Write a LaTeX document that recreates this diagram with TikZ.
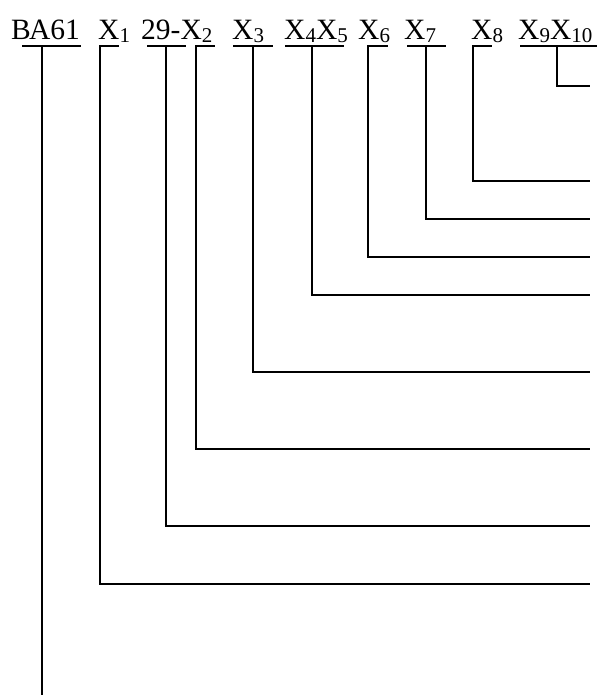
\documentclass[tikz,border=0pt]{standalone}
\usepackage{fontspec}
\setmainfont{Liberation Serif}
\usepackage{tikz}
\newcommand{\idx}[1]{\raisebox{-3pt}{\fontsize{21}{21}\selectfont #1}}

\begin{document}
\begin{tikzpicture}[x=1pt, y=-1pt,
  every node/.style={font=\fontsize{29.5}{31}\selectfont, inner sep=0pt, anchor=base west},
  bar/.style={line width=1.4pt},
  lead/.style={line width=1.4pt}
]
\useasboundingbox (0,0) rectangle (600,695);

% Designation
\node (ba) at (11,40) {ВА61};
\node (xa) at (98,40) {X\idx{1}};
\node (xb) at (141,40) {29-X\idx{2}};
\node (xc) at (232,40) {X\idx{3}};
\node (xd) at (284,40) {X\idx{4}X\idx{5}};
\node (xe) at (358,40) {X\idx{6}};
\node (xf) at (404,40) {X\idx{7}};
\node (xg) at (471,40) {X\idx{8}};
\node (xh) at (518,40) {X\idx{9}X\idx{10}};

% Underlines
\draw[bar] (22,46) -- (81,46);
\draw[bar] (99,46) -- (119,46);
\draw[bar] (147,46) -- (186,46);
\draw[bar] (195,46) -- (215,46);
\draw[bar] (233,46) -- (273,46);
\draw[bar] (285,46) -- (344,46);
\draw[bar] (367,46) -- (388,46);
\draw[bar] (407,46) -- (446,46);
\draw[bar] (472,46) -- (492,46);
\draw[bar] (520,46) -- (597,46);

% Lead points
\coordinate (u0) at (42,46);   \coordinate (r0) at (42,695);
\coordinate (u1) at (100,46);  \coordinate (r1) at (590,584);
\coordinate (u2) at (166,46);  \coordinate (r2) at (590,526);
\coordinate (u3) at (196,46);  \coordinate (r3) at (590,449);
\coordinate (u4) at (253,46);  \coordinate (r4) at (590,372);
\coordinate (u5) at (312,46);  \coordinate (r5) at (590,295);
\coordinate (u6) at (368,46);  \coordinate (r6) at (590,257);
\coordinate (u7) at (426,46);  \coordinate (r7) at (590,219);
\coordinate (u8) at (473,46);  \coordinate (r8) at (590,181);
\coordinate (u9) at (557,46);  \coordinate (r9) at (590,86);

% Leads
\draw[lead] (u0) -- (r0);
\draw[lead] (u1) |- (r1);
\draw[lead] (u2) |- (r2);
\draw[lead] (u3) |- (r3);
\draw[lead] (u4) |- (r4);
\draw[lead] (u5) |- (r5);
\draw[lead] (u6) |- (r6);
\draw[lead] (u7) |- (r7);
\draw[lead] (u8) |- (r8);
\draw[lead] (u9) |- (r9);
\end{tikzpicture}
\end{document}
